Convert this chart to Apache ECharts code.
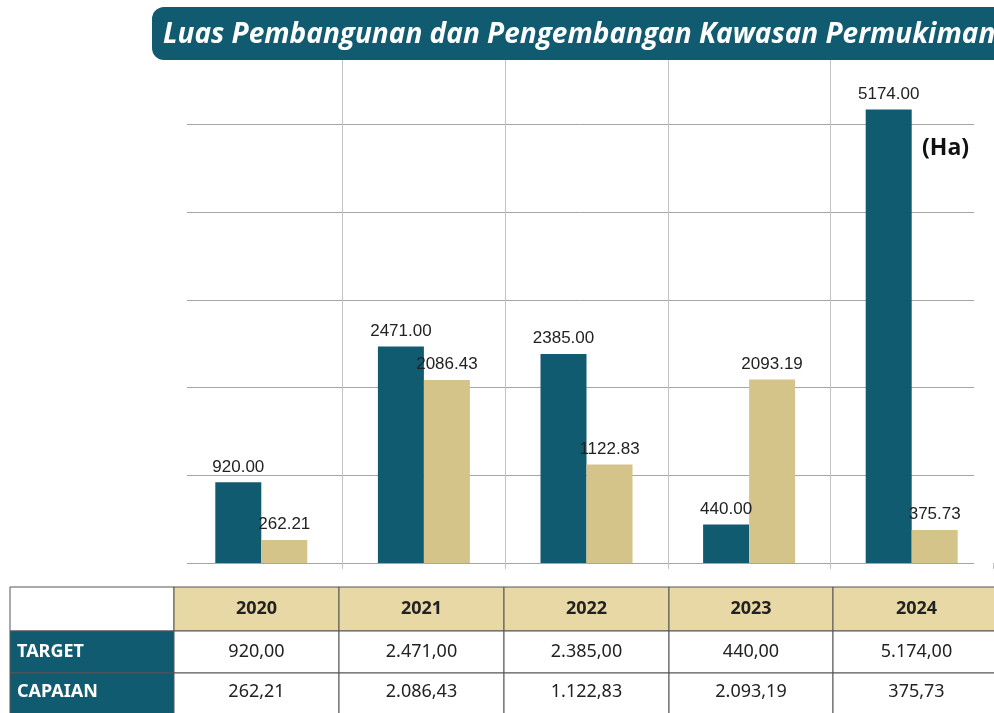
<!DOCTYPE html>
<html>
<head>
<meta charset="utf-8">
<script src="https://cdn.jsdelivr.net/npm/echarts@6/dist/echarts.min.js"></script>
<style>
  html, body { margin: 0; padding: 0; background: #fff; }
  #chart { width: 994px; height: 713px; }
</style>
</head>
<body>
<div id="chart"></div>
<script>
// data
var years = ['2020', '2021', '2022', '2023', '2024'];
var target = [920.00, 2471.00, 2385.00, 440.00, 5174.00];
var capaian = [262.21, 2086.43, 1122.83, 2093.19, 375.73];
var rowNames = ['TARGET', 'CAPAIAN'];
var judul = 'Luas Pembangunan dan Pengembangan Kawasan Permukiman';

var teal = '#115b71';
var beige = '#d5c48a';
var beigeHead = '#e8d8a6';

// format angka gaya Indonesia: 2.471,00
function fmtId(v) {
    var s = v.toFixed(2).split('.');
    var ribuan = s[0].replace(/\B(?=(\d{3})+(?!\d))/g, '.');
    return ribuan + ',' + s[1];
}

// tabel di bawah grafik
var colX = [10, 174, 339, 504, 669, 833, 1000];
var rowY = [587, 631, 673, 716];
var rows = [target, capaian];
var tabel = [];
for (var r = 0; r < 3; r++) {
    for (var c = 0; c < 6; c++) {
        var fill = '#fff';
        if (r === 0 && c > 0) fill = beigeHead;
        if (r > 0 && c === 0) fill = teal;
        tabel.push({
            type: 'rect',
            shape: { x: colX[c], y: rowY[r], width: colX[c + 1] - colX[c], height: rowY[r + 1] - rowY[r] },
            style: { fill: fill, stroke: '#555', lineWidth: 1 }
        });
        var txt = null, align = 'center', tx = (colX[c] + colX[c + 1]) / 2;
        var font = '18px "Noto Sans"', warna = '#222';
        if (r === 0 && c > 0) { txt = years[c - 1]; font = 'bold 18px "Noto Sans"'; }
        if (r > 0 && c === 0) { txt = rowNames[r - 1]; align = 'left'; tx = colX[0] + 7; font = 'bold 18px "Noto Sans"'; warna = '#fff'; }
        if (r > 0 && c > 0) { txt = fmtId(rows[r - 1][c - 1]); }
        if (txt !== null) {
            tabel.push({
                type: 'text',
                x: tx, y: (rowY[r] + Math.min(rowY[r + 1], 713)) / 2 + (r === 2 ? -1 : 0),
                style: { text: txt, font: font, fill: warna, align: align, verticalAlign: 'middle' }
            });
        }
    }
}

var labelBatang = {
    show: true, position: 'top', distance: 7,
    color: '#222', fontSize: 17, fontFamily: 'Liberation Sans',
    formatter: function (p) { return p.value.toFixed(2); }
};

var myChart = echarts.init(document.getElementById('chart'));
var option = {
    backgroundColor: '#fff',
    animation: false,
    grid: [
        { left: 180, right: 1, top: 37, bottom: 150 },
        { left: 187, right: 20, top: 37, bottom: 150 }
    ],
    xAxis: [{
        type: 'category',
        gridIndex: 0,
        data: years,
        axisLine: { show: false },
        axisTick: {
            show: true, length: 6, lineStyle: { color: '#c4c4c4' },
            interval: function (idx) { return idx > 0; }
        },
        axisLabel: { show: false },
        splitLine: { show: true, showMinLine: false, showMaxLine: false, lineStyle: { color: '#c4c4c4', width: 1 } }
    }, {
        type: 'category',
        gridIndex: 1,
        data: years,
        show: false
    }],
    yAxis: [{
        type: 'value',
        gridIndex: 0,
        min: 0, max: 6000, interval: 1000,
        axisLine: { show: false }, axisTick: { show: false }, axisLabel: { show: false },
        splitLine: { show: false }
    }, {
        type: 'value',
        gridIndex: 1,
        min: 0, max: 6000, interval: 1000,
        axisLine: { show: false }, axisTick: { show: false }, axisLabel: { show: false },
        splitLine: { show: true, lineStyle: { color: '#a6a6a6', width: 1 } }
    }],
    series: [{
        name: 'Target',
        type: 'bar',
        xAxisIndex: 0, yAxisIndex: 0,
        data: target,
        barWidth: 46,
        barGap: '0%',
        itemStyle: { color: teal },
        label: labelBatang
    }, {
        name: 'Capaian',
        type: 'bar',
        xAxisIndex: 0, yAxisIndex: 0,
        data: capaian,
        barWidth: 46,
        barGap: '0%',
        itemStyle: { color: beige },
        label: labelBatang
    }],
    graphic: [{
        type: 'rect',
        shape: { x: 152, y: 7, width: 900, height: 53, r: 12 },
        style: { fill: teal },
        z: 100
    }, {
        type: 'text',
        x: 163, y: 35,
        style: { text: judul, font: 'italic bold 28px "Open Sans"', fill: '#fff', verticalAlign: 'middle' },
        z: 101
    }, {
        type: 'text',
        x: 922, y: 148,
        style: { text: '(Ha)', font: 'bold 23px "Open Sans"', fill: '#111', verticalAlign: 'middle' },
        z: 101
    }].concat(tabel)
};
myChart.setOption(option);

window.onresize = function () {
    myChart.resize();
};
</script>
</body>
</html>
